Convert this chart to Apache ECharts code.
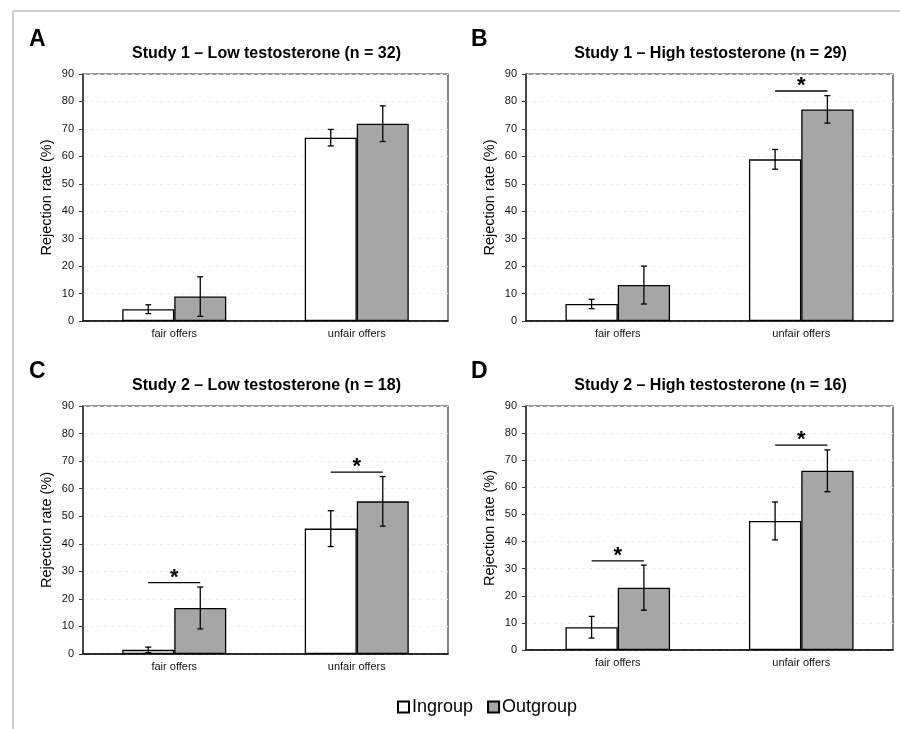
<!DOCTYPE html>
<html>
<head>
<meta charset="utf-8">
<script src="https://cdn.jsdelivr.net/npm/echarts@6/dist/echarts.min.js"></script>
<style>
  html, body { margin: 0; padding: 0; background: #fff; }
  #chart { width: 900px; height: 729px; }
</style>
</head>
<body>
<div id="chart"></div>
<script>
// data
const categories = ['fair offers', 'unfair offers']
const yTicks = [0, 10, 20, 30, 40, 50, 60, 70, 80, 90]
const panelLetters = ['A', 'B', 'C', 'D']
const panelTitles = [
  'Study 1 – Low testosterone (n = 32)',
  'Study 1 – High testosterone (n = 29)',
  'Study 2 – Low testosterone (n = 18)',
  'Study 2 – High testosterone (n = 16)'
]
const ingroupMeans = [[4.3, 66.8], [6.2, 58.9], [1.5, 45.5], [8.4, 47.6]]
const ingroupErr = [[1.6, 3.0], [1.7, 3.6], [1.0, 6.5], [4.0, 7.0]]
const outgroupMeans = [[8.9, 71.9], [13.1, 77.1], [16.7, 55.4], [23.0, 66.1]]
const outgroupErr = [[7.2, 6.5], [6.9, 5.0], [7.6, 9.0], [8.3, 7.7]]
// height of the significance bar (null = none)
const sigLevels = [[null, null], [null, 83.8], [25.9, 66.0], [32.9, 75.6]]

const FONT = '"Liberation Sans", Arial, sans-serif'
const GAP = 0.43 // barCategoryGap

// panel layout (pixels)
const grids = [
  { left: 83, top: 74, width: 365, height: 247 },
  { left: 526, top: 74, width: 367, height: 247 },
  { left: 83, top: 406, width: 365, height: 248 },
  { left: 526, top: 406, width: 367, height: 244 }
]

function barWidth(api) {
  const band = api.size([1, 0])[0]
  return band * (1 - GAP) / 2
}

function errorItem(params, api) {
  const cat = api.value(0)
  const mean = api.value(1)
  const err = api.value(2)
  const side = api.value(3) === 0 ? -0.5 : 0.5
  const bw = barWidth(api)
  const top = api.coord([cat, mean + err])
  const bot = api.coord([cat, mean - err])
  const x = top[0] + side * bw
  const cap = 3
  const style = { stroke: '#000', lineWidth: 1.3 }
  return {
    type: 'group',
    children: [
      { type: 'line', shape: { x1: x, y1: top[1], x2: x, y2: bot[1] }, style },
      { type: 'line', shape: { x1: x - cap, y1: top[1], x2: x + cap, y2: top[1] }, style },
      { type: 'line', shape: { x1: x - cap, y1: bot[1], x2: x + cap, y2: bot[1] }, style }
    ]
  }
}

function sigItem(params, api) {
  const cat = api.value(0)
  const level = api.value(1)
  const bw = barWidth(api)
  const p = api.coord([cat, level])
  return {
    type: 'group',
    children: [
      { type: 'line', shape: { x1: p[0] - bw / 2, y1: p[1], x2: p[0] + bw / 2, y2: p[1] },
        style: { stroke: '#000', lineWidth: 1.3 } },
      { type: 'text', x: p[0], y: p[1] - 5,
        style: { text: '*', font: 'bold 22px ' + FONT, fill: '#000', textAlign: 'center', textVerticalAlign: 'middle' } }
    ]
  }
}

const option = {
  animation: false,
  backgroundColor: '#fff',
  title: [],
  legend: {
    data: ['Ingroup', 'Outgroup'],
    left: 392,
    top: 693,
    itemWidth: 11,
    itemHeight: 11,
    itemGap: 14,
    icon: 'rect',
    textStyle: { fontFamily: FONT, fontSize: 18, color: '#000', padding: [0, 0, 0, -2] }
  },
  graphic: [
    { type: 'line', shape: { x1: 13, y1: 11, x2: 900, y2: 11 }, style: { stroke: '#cfcfcf', lineWidth: 2 } },
    { type: 'line', shape: { x1: 13, y1: 11, x2: 13, y2: 729 }, style: { stroke: '#cfcfcf', lineWidth: 2 } }
  ],
  grid: [],
  xAxis: [],
  yAxis: [],
  series: []
}

grids.forEach((g, i) => {
  option.grid.push(Object.assign({ show: true, borderColor: '#333', borderWidth: 1.2, backgroundColor: '#fff' }, g))
  option.title.push({
    text: panelTitles[i],
    left: g.left + g.width / 2 - 4,
    top: g.top - 33,
    textAlign: 'center',
    textStyle: { fontFamily: FONT, fontSize: 16, fontWeight: 'bold', color: '#000' }
  })
  option.title.push({
    text: panelLetters[i],
    left: i % 2 === 0 ? 24 : 466,
    top: g.top - 51,
    textStyle: { fontFamily: FONT, fontSize: 23, fontWeight: 'bold', color: '#000' }
  })
  option.xAxis.push({
    type: 'category',
    gridIndex: i,
    data: categories,
    axisLine: { lineStyle: { color: '#000', width: 1.5 } },
    axisTick: { show: false },
    axisLabel: { fontFamily: FONT, fontSize: 11, color: '#111', margin: 7 }
  })
  option.yAxis.push({
    type: 'value',
    gridIndex: i,
    min: yTicks[0],
    max: yTicks[yTicks.length - 1],
    interval: yTicks[1] - yTicks[0],
    name: 'Rejection rate (%)',
    nameLocation: 'middle',
    nameRotate: 90,
    nameGap: 29,
    nameTextStyle: { fontFamily: FONT, fontSize: 14.5, color: '#000' },
    axisLine: { show: true, lineStyle: { color: '#333', width: 1.5 } },
    axisTick: { show: true, length: 4, lineStyle: { color: '#333' } },
    axisLabel: { fontFamily: FONT, fontSize: 11, color: '#111', margin: 9 },
    splitLine: { show: true, lineStyle: { color: '#ececec', type: [3, 4] } }
  })
  option.series.push({
    name: 'Ingroup',
    type: 'bar',
    xAxisIndex: i,
    yAxisIndex: i,
    data: ingroupMeans[i],
    barGap: 0,
    barCategoryGap: (GAP * 100) + '%',
    itemStyle: { color: '#fff', borderColor: '#000', borderWidth: 1.3 }
  })
  option.series.push({
    name: 'Outgroup',
    type: 'bar',
    xAxisIndex: i,
    yAxisIndex: i,
    data: outgroupMeans[i],
    barGap: 0,
    barCategoryGap: (GAP * 100) + '%',
    itemStyle: { color: '#a6a6a6', borderColor: '#000', borderWidth: 1.3 }
  })
  const errData = []
  categories.forEach((c, k) => {
    errData.push([k, ingroupMeans[i][k], ingroupErr[i][k], 0])
    errData.push([k, outgroupMeans[i][k], outgroupErr[i][k], 1])
  })
  option.series.push({
    type: 'custom',
    xAxisIndex: i,
    yAxisIndex: i,
    data: errData,
    renderItem: errorItem,
    z: 5
  })
  const sigData = []
  sigLevels[i].forEach((lv, k) => { if (lv !== null) sigData.push([k, lv]) })
  option.series.push({
    type: 'custom',
    xAxisIndex: i,
    yAxisIndex: i,
    data: sigData,
    renderItem: sigItem,
    z: 5
  })
})

option.legend.itemStyle = { borderColor: '#000', borderWidth: 2 }

const chart = echarts.init(document.getElementById('chart'), null, { renderer: 'canvas' })
chart.setOption(option)
</script>
</body>
</html>
